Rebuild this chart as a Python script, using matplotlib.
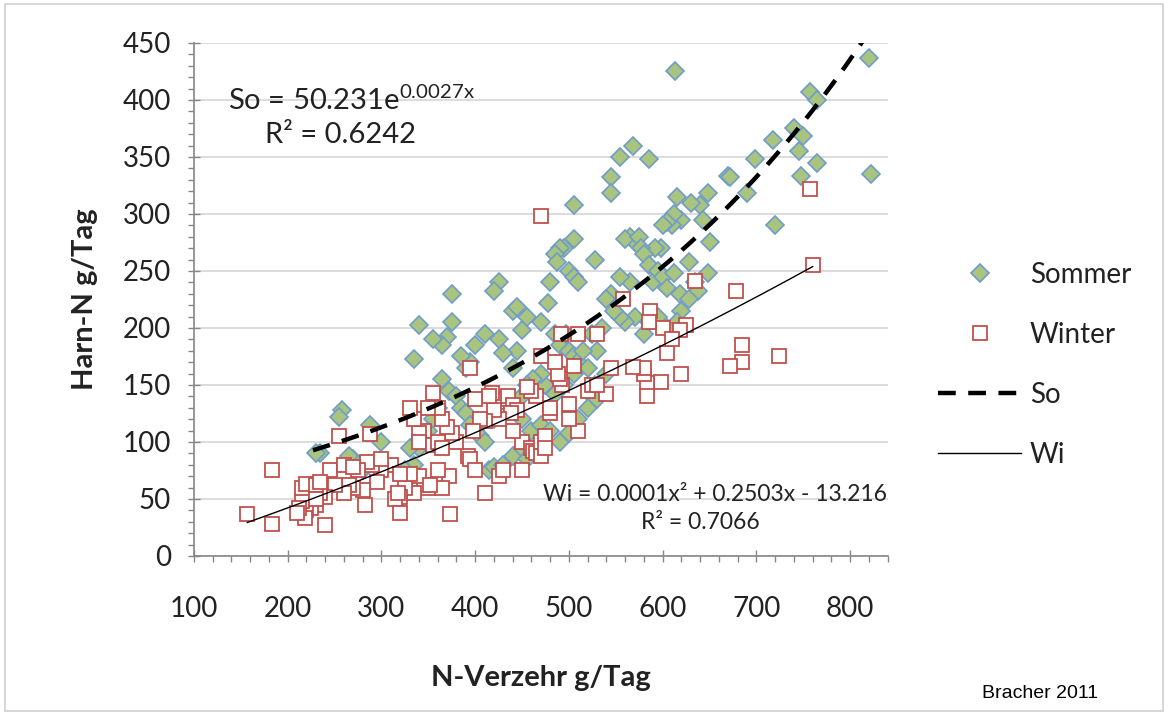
import matplotlib
matplotlib.use('Agg')
import matplotlib.pyplot as plt
import numpy as np
from matplotlib.patches import Rectangle

plt.rcParams['font.family'] = ['Lato', 'DejaVu Sans']
plt.rcParams['mathtext.fontset'] = 'custom'
plt.rcParams['mathtext.rm'] = 'Lato'
plt.rcParams['mathtext.it'] = 'Lato'

# Sommer: N intake (g/Tag) vs urine N (g/Tag)
sommer_x = [613, 820, 757, 765, 822, 765, 740, 745, 750, 748, 718, 720, 698, 690, 670,
            672, 648, 640, 643, 630, 615, 650, 648, 635, 638, 628, 620, 610, 612, 605,
            600, 598, 592, 585, 568, 555, 545, 545, 565, 570, 560, 575, 577, 580, 585,
            590, 595, 600, 605, 612, 618, 620, 628, 615, 605, 595, 585, 580, 570, 565,
            555, 560, 555, 548, 545, 540, 535, 530, 525, 528, 505, 505, 500, 505, 510,
            495, 490, 485, 487, 480, 478, 470, 485, 490, 497, 500, 505, 510, 515, 520,
            528, 535, 525, 540, 505, 495, 485, 475, 470, 462, 455, 440, 445, 450, 455,
            440, 445, 425, 420, 430, 425, 410, 400, 395, 390, 385, 375, 375, 370, 365,
            355, 340, 335, 365, 372, 380, 385, 390, 395, 400, 405, 410, 415, 420, 430,
            440, 450, 455, 460, 470, 475, 480, 490, 500, 510, 520, 530, 450, 440, 430,
            420, 360, 355, 350, 345, 340, 330, 335, 325, 275, 270, 265, 258, 255, 235,
            230, 288, 300, 280, 450]
sommer_y = [425, 437, 407, 400, 335, 345, 375, 355, 368, 333, 365, 290, 348, 318, 333,
            332, 318, 308, 295, 310, 315, 275, 248, 240, 232, 258, 295, 290, 300, 293,
            290, 270, 270, 348, 360, 350, 332, 318, 280, 275, 278, 280, 270, 265, 255,
            240, 250, 245, 235, 248, 230, 215, 225, 205, 200, 210, 205, 195, 210, 240,
            245, 205, 210, 215, 230, 225, 200, 180, 195, 260, 308, 278, 250, 245, 240,
            270, 270, 265, 258, 240, 222, 205, 195, 185, 195, 180, 175, 170, 180, 165,
            150, 143, 140, 160, 160, 150, 142, 150, 160, 155, 150, 165, 180, 198, 210,
            215, 218, 240, 232, 178, 190, 195, 185, 170, 165, 175, 230, 205, 192, 185,
            190, 203, 173, 155, 145, 140, 130, 125, 115, 110, 105, 100, 75, 78, 80,
            88, 95, 85, 110, 115, 100, 110, 100, 108, 120, 130, 138, 120, 130, 125,
            120, 130, 120, 110, 100, 95, 95, 80, 75, 80, 85, 88, 128, 122, 90,
            90, 115, 100, 75, 140]

# Winter
winter_x = [757, 760, 724, 685, 685, 672, 678, 635, 625, 618, 620, 605, 600, 598, 587,
            585, 583, 583, 580, 580, 568, 558, 470, 530, 510, 492, 505, 510, 500, 493,
            490, 488, 485, 480, 470, 465, 460, 455, 450, 460, 462, 465, 470, 475, 440,
            430, 432, 428, 435, 440, 445, 438, 425, 420, 418, 415, 410, 405, 400, 395,
            398, 392, 395, 400, 410, 425, 430, 450, 380, 375, 370, 365, 360, 355, 350,
            345, 340, 335, 330, 340, 355, 360, 365, 372, 373, 350, 345, 340, 335, 325,
            320, 315, 320, 318, 330, 310, 300, 295, 290, 288, 285, 280, 275, 270, 265,
            260, 255, 250, 245, 240, 235, 230, 225, 220, 218, 215, 212, 210, 215, 220,
            230, 240, 282, 183, 183, 157, 230, 235, 260, 270, 300, 320, 360, 365, 352,
            470, 475, 500, 520, 525, 540, 480, 530, 610, 545]
winter_y = [322, 255, 175, 185, 170, 167, 232, 241, 203, 198, 160, 178, 200, 153, 215,
            205, 152, 140, 160, 165, 166, 225, 298, 195, 195, 195, 167, 110, 133, 150,
            155, 160, 170, 125, 175, 140, 145, 148, 100, 95, 92, 90, 100, 105, 110,
            130, 135, 138, 140, 132, 128, 125, 120, 128, 143, 140, 118, 120, 138, 165,
            110, 88, 85, 75, 55, 70, 75, 75, 100, 108, 113, 120, 130, 143, 130,
            110, 108, 120, 130, 100, 97, 100, 95, 70, 37, 60, 62, 70, 55, 60,
            52, 50, 38, 55, 72, 80, 75, 65, 80, 107, 82, 58, 75, 60, 62,
            55, 105, 62, 75, 52, 55, 45, 42, 40, 33, 48, 42, 38, 60, 63,
            62, 27, 45, 75, 28, 37, 50, 65, 80, 78, 85, 72, 75, 60, 62,
            88, 95, 120, 145, 150, 142, 130, 150, 190, 165]

# trend lines (exponential for Sommer, quadratic for Winter)
so_a, so_b = 50.231, 0.0027
so_range = (227, 822)
wi_coef = [0.000133, 0.2503, -13.216]
wi_range = (157, 760)

x_ticks = [100, 200, 300, 400, 500, 600, 700, 800]
y_ticks = [0, 50, 100, 150, 200, 250, 300, 350, 400, 450]


def main():
    fig = plt.figure(figsize=(11.68, 7.15), dpi=100)
    ax = fig.add_axes([0.166, 0.2224, 0.594, 0.7176])

    ax.plot(sommer_x, sommer_y, linestyle='none', marker='D', markersize=9.5,
            markerfacecolor='#A9C47F', markeredgecolor='#6F9CC9', markeredgewidth=1.2,
            label='Sommer', zorder=3)
    ax.plot(winter_x, winter_y, linestyle='none', marker='s', markersize=9.5,
            markerfacecolor='white', markeredgecolor='#C0504D', markeredgewidth=1.3,
            label='Winter', zorder=4)

    xs = np.linspace(so_range[0], so_range[1], 200)
    ax.plot(xs, so_a * np.exp(so_b * xs), color='black', lw=3.2, dashes=(4, 2.8),
            label='So', zorder=5)
    xw = np.linspace(wi_range[0], wi_range[1], 200)
    ax.plot(xw, np.polyval(wi_coef, xw), color='black', lw=1.0, label='Wi', zorder=5)

    ax.set_xlim(100, 840)
    ax.set_ylim(0, 450)
    ax.set_xticks(x_ticks)
    ax.set_yticks(y_ticks)
    ax.set_xticks(np.arange(100, 841, 20), minor=True)
    ax.set_yticks(np.arange(0, 451, 10), minor=True)
    ax.tick_params(which='major', direction='inout', length=9, width=1, color='#868686',
                   labelsize=20, labelcolor='#222222')
    ax.tick_params(which='minor', direction='out', length=4.5, width=1, color='#868686')
    ax.tick_params(axis='x', which='major', pad=24)
    ax.tick_params(axis='y', which='major', pad=12)

    for side in ['top', 'right']:
        ax.spines[side].set_visible(False)
    for side in ['left', 'bottom']:
        ax.spines[side].set_color('#868686')
        ax.spines[side].set_linewidth(1.2)
    ax.grid(axis='y', color='#D9D9D9', lw=1.3)
    ax.set_axisbelow(True)

    ax.set_xlabel('N-Verzehr g/Tag', fontsize=21, fontweight='bold', color='#222222')
    ax.set_ylabel('Harn-N g/Tag', fontsize=21, fontweight='bold', color='#222222')
    ax.xaxis.set_label_coords(0.5, -0.212)
    ax.yaxis.set_label_coords(-0.138, 0.5)

    # equation labels (positions in data units)
    ax.text(136, 400, 'So = 50.231e$^{\\mathrm{0.0027x}}$', fontsize=21, color='#222222',
            ha='left', va='center')
    ax.text(256, 369, 'R² = 0.6242', fontsize=21, color='#222222', ha='center', va='center')
    ax.text(656, 54, 'Wi = 0.0001x² + 0.2503x - 13.216', fontsize=16.5, color='#222222',
            ha='center', va='center')
    ax.text(640, 29, 'R² = 0.7066', fontsize=16.5, color='#222222', ha='center', va='center')

    ax.legend(loc='upper left', bbox_to_anchor=(938 / 1168, 1 - 262 / 715),
              bbox_transform=fig.transFigure, frameon=False, fontsize=20,
              handlelength=3.0, handletextpad=0.3, labelspacing=1.22, borderpad=0,
              borderaxespad=0, numpoints=1, labelcolor='#222222')

    fig.text(1040 / 1168, 1 - 693 / 715, 'Bracher 2011', fontsize=14,
             family='Liberation Sans', ha='center', va='center')
    fig.patches.append(Rectangle((0.004, 0.006), 0.992, 0.988, transform=fig.transFigure,
                                 fill=False, edgecolor='#D0D0D0', lw=1.2))

    fig.savefig('out.png', dpi=100)


if __name__ == '__main__':
    main()
